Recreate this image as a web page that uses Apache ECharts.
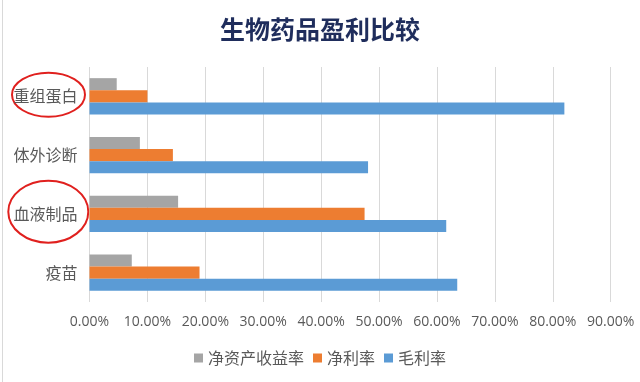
<!DOCTYPE html>
<html>
<head>
<meta charset="utf-8">
<script src="https://cdn.jsdelivr.net/npm/echarts@6/dist/echarts.min.js"></script>
<style>html,body{margin:0;padding:0;background:#fff;}#c{width:640px;height:382px;}</style>
</head>
<body>
<div id="c"></div>
<script>
var categories = ['疫苗', '血液制品', '体外诊断', '重组蛋白'];
var roe = [0.073, 0.153, 0.087, 0.047];        // 净资产收益率
var netMargin = [0.190, 0.475, 0.144, 0.100];  // 净利率
var grossMargin = [0.635, 0.616, 0.481, 0.820]; // 毛利率
var seriesNames = ['净资产收益率', '净利率', '毛利率'];

var chart = echarts.init(document.getElementById('c'));
var font = '"Noto Sans CJK SC", "Microsoft YaHei", sans-serif';
function mk(name, data, color) {
  return {
    name: name, type: 'bar', data: data,
    itemStyle: { color: color },
    barGap: '0%', barCategoryGap: '38%',
    emphasis: { disabled: true }
  };
}
chart.setOption({
  animation: false,
  textStyle: { fontFamily: font },
  title: {
    text: '生物药品盈利比较', left: 'center', top: 12,
    textStyle: { fontSize: 25, color: '#1F2D5C', fontWeight: 'bold', fontFamily: font }
  },
  legend: {
    data: seriesNames, bottom: 11, left: 'center',
    itemWidth: 9, itemHeight: 9, itemGap: 9, icon: 'rect',
    textStyle: { fontSize: 16, color: '#595959', fontFamily: font }
  },
  grid: { left: 89.5, right: 29.3, top: 67, bottom: 80, containLabel: false },
  xAxis: {
    type: 'value', min: 0, max: 0.9, interval: 0.1,
    axisLine: { show: false }, axisTick: { show: false },
    splitLine: { lineStyle: { color: '#D9D9D9', width: 1 } },
    axisLabel: {
      fontSize: 14, color: '#595959', margin: 13,
      fontFamily: '"Open Sans", "Noto Sans", sans-serif',
      formatter: function (v) { return (v * 100).toFixed(2) + '%'; }
    }
  },
  yAxis: {
    type: 'category', data: categories,
    axisLine: { show: false }, axisTick: { show: false },
    axisLabel: { fontSize: 16, color: '#595959', margin: 12 }
  },
  series: [
    mk(seriesNames[0], roe, '#A5A5A5'),
    mk(seriesNames[1], netMargin, '#ED7D31'),
    mk(seriesNames[2], grossMargin, '#5B9BD5')
  ],
  graphic: [
    { type: 'line', shape: { x1: 2.5, y1: 0, x2: 2.5, y2: 382 }, style: { stroke: '#D9D9D9', lineWidth: 1 } },
    { type: 'ellipse', shape: { cx: 48.5, cy: 94.7, rx: 36.5, ry: 22 }, style: { stroke: '#E0201E', fill: 'none', lineWidth: 2 } },
    { type: 'ellipse', shape: { cx: 48.3, cy: 211.7, rx: 40, ry: 31 }, style: { stroke: '#E0201E', fill: 'none', lineWidth: 2 } }
  ]
});
</script>
</body>
</html>
